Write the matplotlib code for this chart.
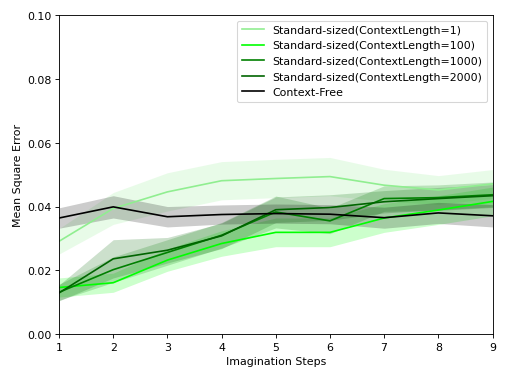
import matplotlib
matplotlib.use("Agg")
import matplotlib.pyplot as plt
import numpy as np

steps = [1, 2, 3, 4, 5, 6, 7, 8, 9]

labels = ["Standard-sized(ContextLength=1)", "Standard-sized(ContextLength=100)",
          "Standard-sized(ContextLength=1000)", "Standard-sized(ContextLength=2000)",
          "Context-Free"]

cl1_mean = [0.0291, 0.0394, 0.0446, 0.0481, 0.0488, 0.0494, 0.0467, 0.0452, 0.0471]
cl1_std = [0.0040, 0.0050, 0.0060, 0.0060, 0.0060, 0.0060, 0.0050, 0.0045, 0.0045]

cl100_mean = [0.0146, 0.0161, 0.0232, 0.0284, 0.0319, 0.0319, 0.0364, 0.0389, 0.0416]
cl100_std = [0.0030, 0.0030, 0.0035, 0.0040, 0.0045, 0.0045, 0.0045, 0.0045, 0.0045]

cl1000_mean = [0.0131, 0.0202, 0.0256, 0.0310, 0.0383, 0.0355, 0.0425, 0.0428, 0.0437]
cl1000_std = [0.0025, 0.0040, 0.0040, 0.0040, 0.0050, 0.0040, 0.0040, 0.0040, 0.0040]

cl2000_mean = [0.0129, 0.0236, 0.0263, 0.0308, 0.0390, 0.0397, 0.0415, 0.0425, 0.0434]
cl2000_std = [0.0025, 0.0060, 0.0040, 0.0040, 0.0040, 0.0040, 0.0035, 0.0035, 0.0035]

cf_mean = [0.0364, 0.0399, 0.0368, 0.0375, 0.0378, 0.0376, 0.0365, 0.0380, 0.0371]
cf_std = [0.0032, 0.0035, 0.0032, 0.0030, 0.0030, 0.0030, 0.0033, 0.0033, 0.0035]

colors = ["#90ee90", "#00ff00", "#008000", "#006400", "black"]
means = [cl1_mean, cl100_mean, cl1000_mean, cl2000_mean, cf_mean]
stds = [cl1_std, cl100_std, cl1000_std, cl2000_std, cf_std]

fig = plt.figure(figsize=(6.4, 4.8), dpi=79.53)
ax = fig.add_axes([0.116, 0.123, 0.8516, 0.835])
for m, s, c, lab in zip(means, stds, colors, labels):
    m = np.array(m); s = np.array(s)
    ax.plot(steps, m, color=c, label=lab, lw=1.5)
    ax.fill_between(steps, m - s, m + s, color=c, alpha=0.2, lw=0)

ax.set_xlim(1, 9)
ax.set_ylim(0, 0.10)
ax.set_xticks(steps)
ax.set_yticks([0.0, 0.02, 0.04, 0.06, 0.08, 0.10])
ax.set_xlabel("Imagination Steps")
ax.set_ylabel("Mean Square Error")
ax.legend(loc="upper right")
fig.savefig("out.png", dpi=79.53)
